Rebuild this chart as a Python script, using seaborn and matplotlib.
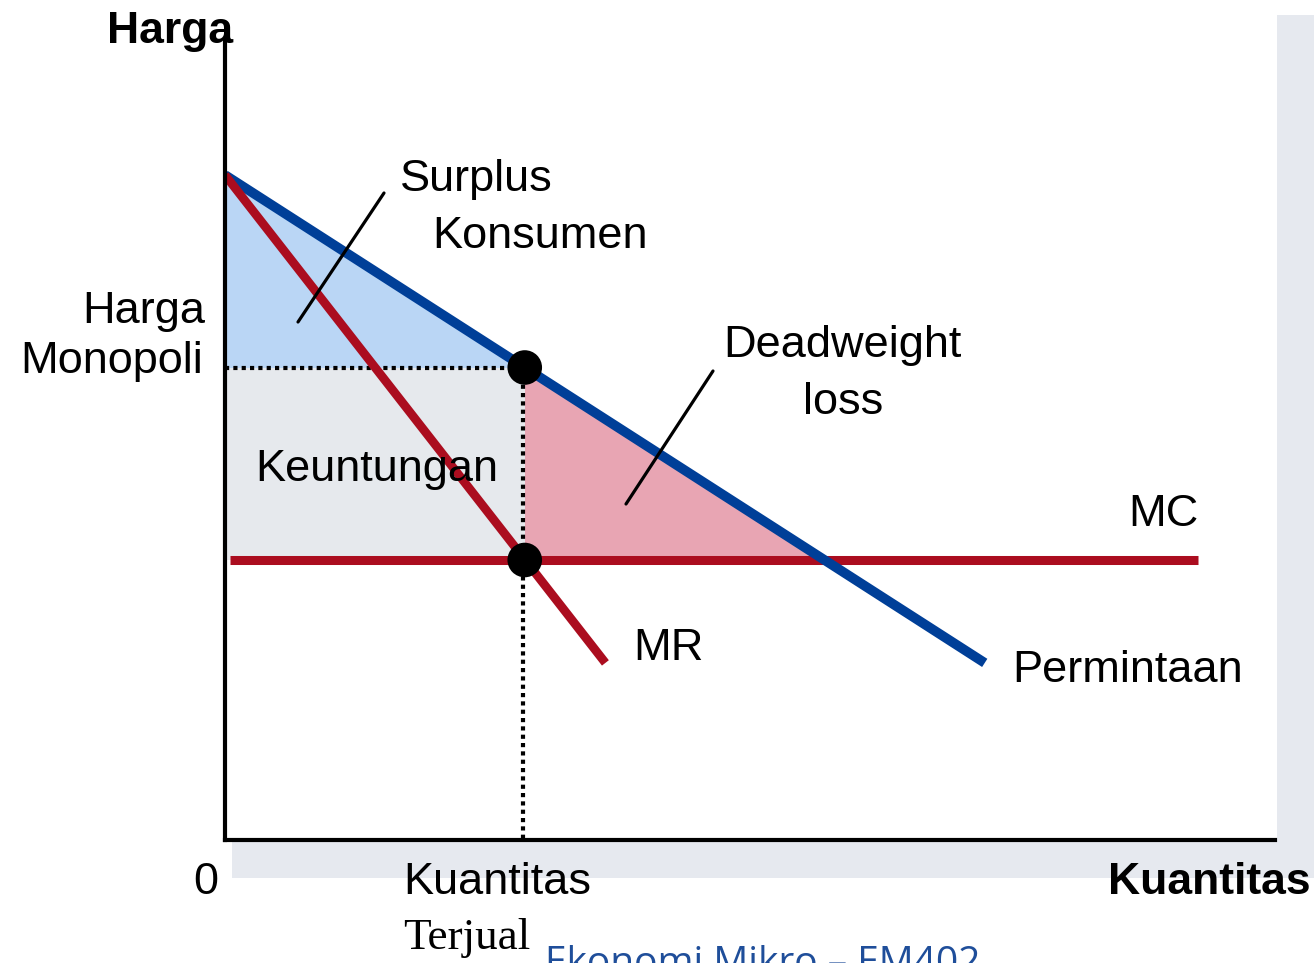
import numpy as np
import pandas as pd
import matplotlib.pyplot as plt
import seaborn as sns
from matplotlib.patches import Rectangle

# monopoly model: demand P = 9.5 - Q, MR = 9.5 - 2Q, MC = 4
q_demand = [0.0, 6.97]
p_demand = [9.5, 2.53]
q_mr = [0.0, 3.49]
p_mr = [9.5, 2.53]
q_mc = [0.05, 8.93]
p_mc = [4.0, 4.0]
q_mono = 2.75     # quantity sold
p_mono = 6.75     # monopoly price
p_choke = 9.5
q_comp = 5.5      # where demand meets MC
mc_level = 4.0

W, H = 1314, 963
sns.set_style('white')
plt.rcParams['font.family'] = ['Liberation Sans', 'DejaVu Sans']
plt.rcParams['text.color'] = 'black'

fig = plt.figure(figsize=(W / 100, H / 100), dpi=100)

# soft grey shadow of the slide box
fig.add_artist(Rectangle((1277 / W, 1 - 878 / H), 37 / W, 863 / H,
                         transform=fig.transFigure, color='#e6e9ef', lw=0, zorder=0))
fig.add_artist(Rectangle((232 / W, 1 - 878 / H), 1045 / W, 36 / H,
                         transform=fig.transFigure, color='#e6e9ef', lw=0, zorder=0))

ax = fig.add_axes([225 / W, 1 - 840 / H, 1050 / W, 800 / H])
ax.set_facecolor('none')

# shaded areas
ax.fill([0, 0, q_mono], [p_choke, p_mono, p_mono], color='#bad6f5', lw=0, zorder=1)
ax.fill([0, 0, q_mono, q_mono], [mc_level, p_mono, p_mono, mc_level], color='#e6e9ed', lw=0, zorder=1)
ax.fill([q_mono, q_mono, q_comp], [p_mono, mc_level, mc_level], color='#e8a5b3', lw=0, zorder=1)

# dotted guides
ax.plot([0, q_mono - 0.15], [p_mono, p_mono], color='black', lw=3,
        linestyle=(0, (1, 1)), zorder=2)
ax.plot([q_mono - 0.02, q_mono - 0.02], [p_mono, 0], color='black', lw=3,
        linestyle=(0, (1, 1)), zorder=2)

# curves
sns.lineplot(x=q_mc, y=p_mc, color='#ab0d1f', linewidth=6.5, ax=ax, zorder=3,
             solid_capstyle='butt')
sns.lineplot(x=q_demand, y=p_demand, color='#003f98', linewidth=7, ax=ax, zorder=4,
             solid_capstyle='butt')
sns.lineplot(x=q_mr, y=p_mr, color='#ab0d1f', linewidth=6.3, ax=ax, zorder=5,
             solid_capstyle='butt')

pts = pd.DataFrame({'q': [q_mono, q_mono], 'p': [p_mono, mc_level]})
sns.scatterplot(data=pts, x='q', y='p', color='black', s=620, edgecolor='none',
                ax=ax, zorder=6, clip_on=False)

ax.set_xlim(0, 1050 / 109)
ax.set_ylim(0, 800 / 70)
ax.set_xticks([])
ax.set_yticks([])
ax.set_xlabel('')
ax.set_ylabel('')
for s in ['top', 'right']:
    ax.spines[s].set_visible(False)
for s in ['left', 'bottom']:
    ax.spines[s].set_linewidth(3)
    ax.spines[s].set_color('black')
    ax.spines[s].set_zorder(7)

# pointer strokes
ax.plot([(384 - 225) / 109, (298 - 225) / 109], [(840 - 193) / 70, (840 - 322) / 70],
        color='black', lw=2.3, zorder=7)
ax.plot([(713 - 225) / 109, (626 - 225) / 109], [(840 - 371) / 70, (840 - 504) / 70],
        color='black', lw=2.3, zorder=7)


def label(x, y, s, ha='left', va='center', **kw):
    kw.setdefault('fontsize', 32.5)
    kw.setdefault('color', 'black')
    fig.text(x / W, 1 - y / H, s, ha=ha, va=va, zorder=10, **kw)


label(107, 31, 'Harga', fontweight='bold', fontsize=32)
label(1311, 882, 'Kuantitas', ha='right', fontweight='bold', fontsize=32)
label(193, 883, '0')
label(403, 883, 'Kuantitas')
label(403, 938, 'Terjual', family=['Liberation Serif', 'DejaVu Serif'])
label(205, 311, 'Harga', ha='right')
label(203, 362, 'Monopoli', ha='right')
label(400, 180, 'Surplus')
label(432, 237, 'Konsumen')
label(723, 346, 'Deadweight')
label(803, 403, 'loss')
label(255, 469, 'Keuntungan')
label(1128, 514, 'MC')
label(633, 648, 'MR')
label(1012, 670, 'Permintaan')
label(545, 945, 'Ekonomi Mikro \u2013 EM402', va='top', color='#1f4e9a',
      family=['Open Sans', 'DejaVu Sans'], fontsize=28)

fig.savefig('out.png', dpi=100)
